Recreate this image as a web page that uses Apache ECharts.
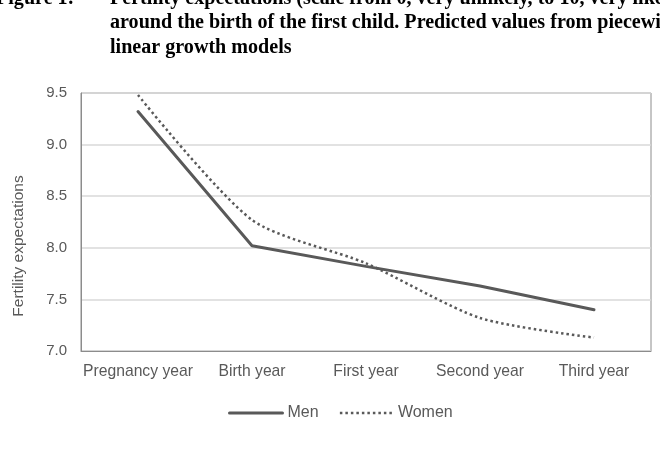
<!DOCTYPE html>
<html>
<head>
<meta charset="utf-8">
<script src="https://cdn.jsdelivr.net/npm/echarts@6/dist/echarts.min.js"></script>
<style>
html,body{margin:0;padding:0;background:#fff;}
#c{width:660px;height:472px;}
</style>
</head>
<body>
<div id="c"></div>
<script>
var categories = ['Pregnancy year', 'Birth year', 'First year', 'Second year', 'Third year'];
var menValues = [9.32, 8.02, 7.82, 7.63, 7.40];
var womenValues = [9.48, 8.27, 7.85, 7.32, 7.13];
var yTicks = [7.0, 7.5, 8.0, 8.5, 9.0, 9.5];
var titleLines = [
  'Fertility expectations (scale from 0, very unlikely, to 10, very likely)',
  'around the birth of the first child. Predicted values from piecewise',
  'linear growth models'
];
var figureLabel = 'Figure 1:';
var yAxisTitle = 'Fertility expectations';

var chart = echarts.init(document.getElementById('c'), null, {renderer: 'canvas'});
var gray = '#595959';
var sans = '"Liberation Sans", Arial, sans-serif';
var titleFont = 'bold 20.1px "Liberation Serif", "Times New Roman", serif';
var menLine = {color: gray, width: 3, cap: 'round'};
var womenLine = {color: gray, width: 2.5, type: [2.5, 3], cap: 'butt'};

var option = {
  animation: false,
  backgroundColor: '#fff',
  graphic: [
    {type: 'text', left: -4, top: -11, style: {text: figureLabel, font: titleFont, fill: '#000'}},
    {type: 'text', left: 110, top: -11, style: {text: titleLines[0], font: titleFont, fill: '#000'}},
    {type: 'text', left: 110, top: 13, style: {text: titleLines[1], font: titleFont, fill: '#000'}},
    {type: 'text', left: 110, top: 37.5, style: {text: titleLines[2], font: titleFont, fill: '#000'}},
    {type: 'text', x: 19, y: 246, rotation: Math.PI / 2,
      style: {text: yAxisTitle, font: '15.5px ' + sans, fill: gray, align: 'center', verticalAlign: 'middle'}}
  ],
  legend: {
    data: [
      {name: 'Men', lineStyle: menLine},
      {name: 'Women', lineStyle: womenLine}
    ],
    left: 223,
    top: 400,
    itemWidth: 53,
    itemHeight: 14,
    itemGap: 20,
    itemStyle: {color: 'rgba(0,0,0,0)', borderWidth: 0, opacity: 0},
    textStyle: {color: gray, fontSize: 16, fontFamily: sans}
  },
  grid: {
    left: 81, right: 9, top: 93, bottom: 121,
    show: true, borderColor: '#8c8c8c', borderWidth: 1, containLabel: false
  },
  xAxis: {
    type: 'category',
    data: categories,
    boundaryGap: true,
    axisLine: {show: true, lineStyle: {color: '#8c8c8c', width: 1}},
    axisTick: {show: false},
    axisLabel: {color: gray, fontSize: 15.7, margin: 13, fontFamily: sans, interval: 0}
  },
  yAxis: {
    type: 'value',
    min: yTicks[0],
    max: yTicks[yTicks.length - 1],
    interval: 0.5,
    axisLine: {show: true, lineStyle: {color: '#8c8c8c', width: 1}},
    axisTick: {show: false},
    axisLabel: {
      color: gray, fontSize: 15, margin: 14, fontFamily: sans,
      formatter: function (v) { return v.toFixed(1); }
    },
    splitLine: {show: true, lineStyle: {color: '#d9d9d9', width: 1.5}}
  },
  series: [
    {
      name: 'Men',
      type: 'line',
      data: menValues,
      symbol: 'none',
      smooth: false,
      lineStyle: menLine,
      itemStyle: {color: gray}
    },
    {
      name: 'Women',
      type: 'line',
      data: womenValues,
      symbol: 'none',
      smooth: 0.25,
      lineStyle: womenLine,
      itemStyle: {color: gray}
    }
  ]
};
chart.setOption(option);
</script>
</body>
</html>
